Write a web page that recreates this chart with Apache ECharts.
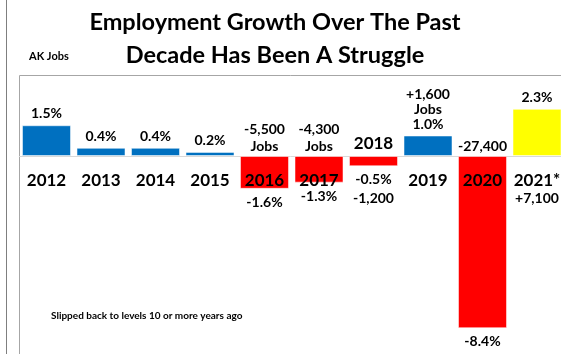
<!DOCTYPE html>
<html lang="en">
<head>
    <meta charset="UTF-8">
    <title>AK Jobs</title>
    <script src="https://cdn.jsdelivr.net/npm/echarts@6.0.0/dist/echarts.min.js"></script>
    <style>
        html, body { margin: 0; padding: 0; background: #fff; }
        #main { width: 561px; height: 354px; }
    </style>
</head>
<body>
    <div id="main"></div>
    <script>
        // data
        let years = ['2012', '2013', '2014', '2015', '2016', '2017', '2018', '2019', '2020', '2021*'];
        let growth = [1.5, 0.4, 0.4, 0.2, -1.6, -1.3, -0.5, 1.0, -8.4, 2.3];
        let colors = ['#0070C0', '#0070C0', '#0070C0', '#0070C0', '#FF0000', '#FF0000', '#FF0000', '#0070C0', '#FF0000', '#FFFF00'];
        // job change notes (text shown next to the bars)
        let jobsAbove = ['', '', '', '', '-5,500\nJobs', '-4,300\nJobs', '', '+1,600\nJobs', '-27,400', ''];
        let jobsBelow = ['', '', '', '', '', '', '-1,200', '', '', '+7,100'];

        let font = 'Lato, "Open Sans", sans-serif';
        let myChart = echarts.init(document.getElementById('main'));

        function pct(v) {
            return v.toFixed(1) + '%';
        }

        let mainData = growth.map((v, i) => {
            let txt = pct(v);
            if (v > 0 && jobsAbove[i]) txt = jobsAbove[i] + '\n' + txt;
            if (v < 0 && jobsBelow[i]) txt = txt + '\n' + jobsBelow[i];
            return {
                value: v,
                itemStyle: { color: colors[i] },
                label: {
                    position: v >= 0 ? 'top' : 'bottom',
                    lineHeight: v >= 0 ? 15 : 19,
                    formatter: txt
                }
            };
        });

        // transparent copy, only used to write text above the zero line for the falling years
        let overData = growth.map((v, i) => {
            let txt = '';
            if (v < 0) txt = jobsAbove[i];
            if (years[i] === '2018') txt = '{yr|2018}';
            return {
                value: v,
                label: { show: txt !== '', position: 'top', formatter: txt }
            };
        });

        // year names hang from the zero line (2018 sits above it)
        let yearData = years.map((y, i) => {
            let txt = '{yr|' + y + '}';
            if (growth[i] > 0 && jobsBelow[i]) txt += '\n{s|' + jobsBelow[i] + '}';
            return {
                value: 0,
                label: { show: y !== '2018', formatter: txt }
            };
        });

        option = {
            animation: false,
            textStyle: { fontFamily: font },
            title: {
                text: 'Employment Growth Over The Past\nDecade Has Been A Struggle',
                left: 270,
                textAlign: 'center',
                top: 1,
                textStyle: { fontSize: 23.5, fontWeight: 'bold', color: '#000', lineHeight: 33, fontFamily: font }
            },
            graphic: [
                { type: 'line', shape: { x1: 6.5, y1: 0, x2: 6.5, y2: 354 }, style: { stroke: '#7f7f7f', lineWidth: 1 } },
                { type: 'polyline', shape: { points: [[19.5, 354], [19.5, 75.5], [561, 75.5]] }, style: { stroke: '#a6a6a6', lineWidth: 1, fill: null } },
                { type: 'text', left: 29, top: 51, style: { text: 'AK Jobs', font: 'bold 11px ' + font, fill: '#000' } },
                { type: 'text', left: 51, top: 311, style: { text: 'Slipped back to levels 10 or more years ago', font: 'bold 10px ' + font, fill: '#000' } }
            ],
            grid: { left: 19.25, width: 545, top: 94.5, height: 246, outerBoundsMode: 'none', containLabel: false },
            xAxis: {
                type: 'category',
                data: years,
                axisLine: { onZero: true, lineStyle: { color: '#d9d9d9', width: 1 } },
                axisTick: { show: false },
                axisLabel: { show: false }
            },
            yAxis: {
                type: 'value',
                min: -9,
                max: 3,
                axisLine: { show: false },
                axisTick: { show: false },
                axisLabel: { show: false },
                splitLine: { show: false }
            },
            series: [
                {
                    type: 'bar',
                    data: mainData,
                    barWidth: 49,
                    itemStyle: { borderColor: 'rgba(255,255,255,0.5)', borderWidth: 1 },
                    label: {
                        show: true,
                        distance: 4,
                        color: '#000',
                        fontSize: 14,
                        fontWeight: 'bold',
                        fontFamily: font
                    }
                },
                {
                    type: 'bar',
                    data: overData,
                    barWidth: 49,
                    barGap: '-100%',
                    silent: true,
                    itemStyle: { color: 'rgba(0,0,0,0)' },
                    label: {
                        distance: 1,
                        color: '#000',
                        fontSize: 14,
                        fontWeight: 'bold',
                        fontFamily: font,
                        lineHeight: 17,
                        rich: {
                            yr: { fontSize: 17, fontWeight: 'bold', color: '#000', fontFamily: font, padding: [0, 0, 5, 0] }
                        }
                    }
                },
                {
                    type: 'bar',
                    data: yearData,
                    barWidth: 49,
                    barGap: '-100%',
                    silent: true,
                    z: 5,
                    itemStyle: { color: 'rgba(0,0,0,0)' },
                    label: {
                        position: 'bottom',
                        distance: 16,
                        color: '#000',
                        rich: {
                            yr: { fontSize: 17, fontWeight: 'bold', color: '#000', fontFamily: font, lineHeight: 18 },
                            s: { fontSize: 14, fontWeight: 'bold', color: '#000', fontFamily: font, lineHeight: 17 }
                        }
                    }
                }
            ]
        };

        myChart.setOption(option);
    </script>
</body>
</html>
